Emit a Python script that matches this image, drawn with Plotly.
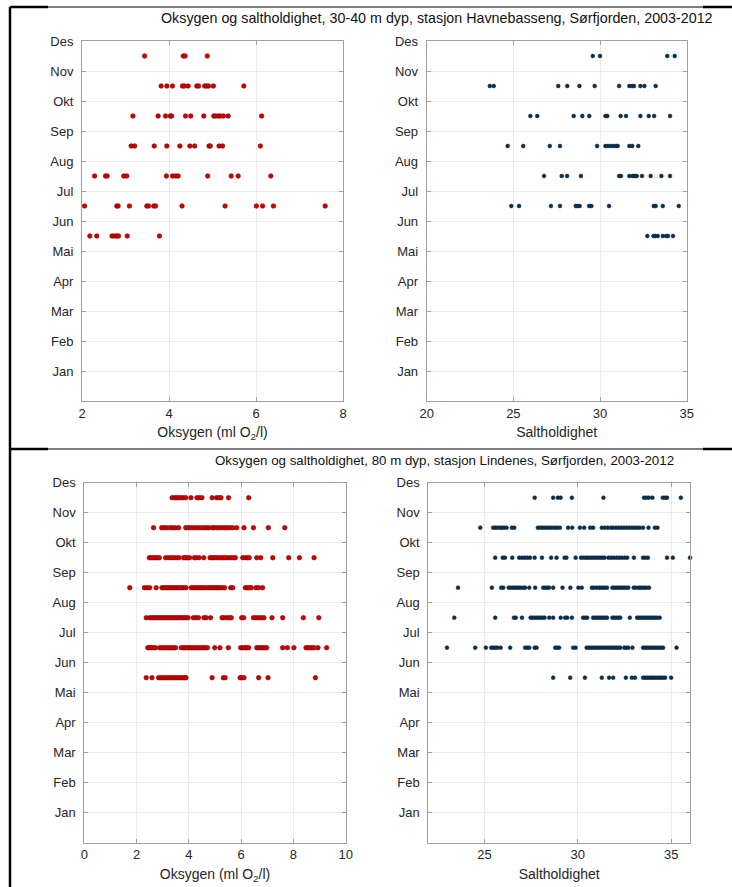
import plotly.graph_objects as go

# months on the y axis, data rows are May..Nov (plotted mid-month)
MONTH_NAMES = ["Jan", "Feb", "Mar", "Apr", "Mai", "Jun", "Jul", "Aug", "Sep", "Okt", "Nov", "Des"]
DATA_MONTHS = [5, 6, 7, 8, 9, 10, 11]

TITLE_TOP = "Oksygen og saltholdighet, 30-40 m dyp, stasjon Havnebasseng, Sørfjorden, 2003-2012"
TITLE_BOTTOM = "Oksygen og saltholdighet, 80 m dyp, stasjon Lindenes, Sørfjorden, 2003-2012"

# Havnebasseng 30-40 m, oxygen (ml O2/l), one list per month May..Nov
oks_havn = [
    [2.18, 2.34, 2.69, 2.74, 2.80, 2.84, 3.04, 3.78],
    [2.06, 2.80, 2.83, 3.09, 3.49, 3.53, 3.65, 3.69, 4.30, 5.29, 6.01, 6.15, 6.40, 7.59],
    [2.29, 2.54, 2.58, 2.96, 3.03, 3.94, 4.08, 4.15, 4.21, 4.89, 5.43, 5.59, 6.34],
    [3.13, 3.21, 3.66, 3.95, 4.25, 4.48, 4.59, 4.92, 4.95, 5.15, 5.23, 6.10],
    [3.17, 3.75, 3.92, 4.03, 4.06, 4.38, 4.50, 4.80, 5.03, 5.07, 5.13, 5.18, 5.25, 5.36, 6.13],
    [3.82, 3.95, 4.08, 4.31, 4.35, 4.44, 4.64, 4.68, 4.82, 4.87, 4.91, 5.02, 5.72],
    [3.44, 4.33, 4.37, 4.88],
]

# Havnebasseng 30-40 m, salinity
salt_havn = [
    [32.73, 33.08, 33.19, 33.33, 33.62, 33.81, 33.92, 34.21],
    [24.88, 25.33, 27.17, 27.69, 28.60, 28.71, 28.83, 29.37, 29.50, 30.52, 33.10, 33.21, 33.62, 34.54],
    [26.77, 27.79, 28.10, 28.90, 31.10, 31.21, 31.69, 31.88, 32.00, 32.12, 32.42, 32.92, 33.54, 34.04],
    [24.67, 25.57, 27.10, 27.69, 29.83, 30.31, 30.46, 30.62, 30.77, 30.92, 31.02, 31.69, 31.86, 32.21],
    [25.98, 26.38, 28.48, 28.98, 29.38, 30.31, 30.42, 31.19, 31.50, 32.33, 32.81, 33.12, 34.04],
    [23.64, 23.87, 27.59, 28.11, 28.81, 29.69, 31.10, 31.69, 31.85, 31.96, 32.33, 32.56, 33.21],
    [29.58, 30.00, 33.88, 34.31],
]

# Lindenes 80 m, oxygen
oks_lind = [
    [2.37, 2.59, 2.84, 2.92, 3.00, 3.08, 3.15, 3.23, 3.31, 3.38, 3.46, 3.53, 3.61, 3.69, 3.76, 3.84,
     3.89, 4.89, 5.32, 5.39, 5.96, 6.03, 6.11, 6.67, 7.03, 8.84],
    [2.43, 2.49, 2.56, 2.64, 2.72, 2.88, 2.96, 3.04, 3.11, 3.19, 3.26, 3.34, 3.42, 3.49, 3.71, 3.79,
     3.86, 3.94, 4.02, 4.09, 4.17, 4.25, 4.32, 4.40, 4.48, 4.55, 4.63, 4.71, 4.99, 5.19, 5.51, 5.98,
     6.06, 6.14, 6.21, 6.29, 6.60, 6.67, 6.75, 6.82, 6.90, 6.98, 7.59, 7.77, 8.02, 8.48, 8.56, 8.63,
     8.71, 8.79, 8.94, 9.27],
    [2.37, 2.51, 2.59, 2.67, 2.74, 2.82, 2.90, 2.97, 3.05, 3.12, 3.20, 3.28, 3.36, 3.43, 3.51, 3.58,
     3.66, 3.74, 3.81, 3.89, 3.97, 4.17, 4.27, 4.37, 4.58, 4.66, 4.83, 5.27, 5.34, 5.45, 5.55, 5.62,
     6.02, 6.10, 6.47, 6.57, 6.67, 6.77, 6.87, 7.18, 7.59, 8.38, 8.97],
    [1.74, 2.30, 2.40, 2.50, 2.75, 2.97, 3.05, 3.13, 3.20, 3.28, 3.35, 3.43, 3.51, 3.58, 3.66, 3.74,
     3.81, 3.89, 4.09, 4.17, 4.25, 4.32, 4.40, 4.48, 4.55, 4.63, 4.73, 4.81, 4.89, 4.96, 5.04, 5.12,
     5.19, 5.27, 5.37, 5.60, 5.68, 6.16, 6.24, 6.31, 6.39, 6.57, 6.67, 6.82],
    [2.49, 2.56, 2.64, 2.72, 2.79, 2.87, 3.11, 3.21, 3.32, 3.42, 3.52, 3.62, 3.80, 3.88, 3.95, 4.03,
     4.21, 4.28, 4.39, 4.57, 4.81, 4.89, 4.96, 5.04, 5.14, 5.24, 5.32, 5.40, 5.50, 5.60, 5.70, 5.78,
     6.06, 6.16, 6.24, 6.31, 6.60, 6.75, 7.21, 7.82, 8.23, 8.79],
    [2.65, 2.96, 3.05, 3.15, 3.28, 3.38, 3.48, 3.61, 3.88, 3.98, 4.07, 4.17, 4.27, 4.38, 4.48, 4.58,
     4.68, 4.76, 4.89, 4.96, 5.07, 5.16, 5.27, 5.37, 5.47, 5.57, 5.68, 5.83, 6.11, 6.47, 7.04, 7.67],
    [3.36, 3.46, 3.53, 3.61, 3.69, 3.78, 3.88, 4.08, 4.31, 4.40, 4.50, 4.89, 5.06, 5.15, 5.23, 5.52, 6.29],
]

# Lindenes 80 m, salinity
salt_lind = [
    [28.68, 29.59, 30.38, 31.28, 31.67, 31.89, 32.57, 32.89, 33.06, 33.49, 33.60, 33.70, 33.81, 33.92,
     34.02, 34.13, 34.24, 34.35, 34.45, 34.56, 34.67, 34.99],
    [23.00, 24.51, 25.08, 25.37, 25.47, 25.58, 25.69, 25.87, 26.38, 27.18, 27.29, 27.40, 27.69, 27.79,
     28.79, 28.89, 29.00, 29.75, 29.88, 30.47, 30.57, 30.68, 30.79, 30.89, 31.00, 31.10, 31.21, 31.32,
     31.42, 31.53, 31.64, 31.74, 31.85, 31.96, 32.06, 32.17, 32.27, 32.49, 32.60, 32.70, 32.92, 33.49,
     33.60, 33.70, 33.81, 33.92, 34.02, 34.13, 34.24, 34.35, 34.45, 34.56, 35.28],
    [23.39, 25.58, 26.58, 26.68, 27.01, 27.47, 27.58, 27.68, 27.79, 27.90, 28.00, 28.11, 28.22, 28.47,
     28.68, 29.08, 29.32, 29.43, 29.68, 30.28, 30.39, 30.50, 30.82, 30.93, 31.03, 31.14, 31.24, 31.35,
     31.45, 31.56, 31.85, 31.96, 32.06, 32.17, 32.27, 32.78, 33.17, 33.27, 33.38, 33.49, 33.60, 33.70,
     33.81, 33.92, 34.02, 34.13, 34.24, 34.38],
    [23.59, 25.40, 25.90, 26.01, 26.30, 26.40, 26.51, 26.62, 26.72, 26.83, 26.94, 27.08, 27.18, 27.40,
     27.72, 28.15, 28.25, 28.36, 28.46, 28.68, 29.18, 29.60, 30.03, 30.21, 30.75, 30.85, 31.00, 31.14,
     31.24, 31.35, 31.45, 31.56, 31.85, 31.96, 32.06, 32.17, 32.27, 32.38, 32.49, 32.60, 32.70, 32.99,
     33.09, 33.24, 33.34, 33.45, 33.56, 33.67, 33.81],
    [25.58, 25.98, 26.10, 26.49, 26.86, 27.01, 27.15, 27.29, 27.44, 27.69, 28.08, 28.57, 28.86, 29.29,
     29.39, 29.88, 30.17, 30.30, 30.43, 30.55, 30.68, 30.80, 30.93, 31.05, 31.18, 31.30, 31.43, 31.64,
     31.78, 31.92, 32.07, 32.21, 32.35, 32.50, 32.64, 33.00, 33.49, 33.62, 33.75, 34.77, 35.08, 36.00],
    [24.78, 25.47, 25.58, 25.69, 25.83, 25.94, 26.05, 26.19, 26.47, 26.60, 27.86, 27.99, 28.11, 28.24,
     28.36, 28.49, 28.61, 28.76, 28.89, 29.04, 29.48, 29.70, 30.11, 30.34, 30.66, 30.82, 31.28, 31.44,
     31.60, 31.77, 31.89, 32.04, 32.18, 32.32, 32.46, 32.60, 32.74, 32.89, 33.03, 33.17, 33.31, 33.49,
     33.78, 34.12, 34.26],
    [27.69, 28.68, 28.93, 29.08, 29.68, 31.37, 33.54, 33.67, 33.80, 33.99, 34.54, 34.67, 34.77, 35.51],
]

RED = "#d10000"
RED_EDGE = "#7a0000"
NAVY = "#0b2d4a"
FONT = "Liberation Sans, Arial, sans-serif"
TICK_COLOR = "#262626"
AXIS_COLOR = "#a0a0a0"
GRID_COLOR = "#ebebeb"

W, H = 732, 887


def px_x(p):
    return p / W


def px_y(p):
    return 1 - p / H


def add_rows(fig, rows, axis, color, edge, size):
    xs, ys = [], []
    for m, vals in zip(DATA_MONTHS, rows):
        xs += vals
        ys += [m + 0.5] * len(vals)
    fig.add_trace(go.Scatter(
        x=xs, y=ys, mode="markers", xaxis="x" + axis, yaxis="y" + axis,
        marker=dict(color=color, size=size, line=dict(color=edge, width=0.6)),
        cliponaxis=False, showlegend=False, hoverinfo="x+y",
    ))


fig = go.Figure()
add_rows(fig, oks_havn, "", RED, RED_EDGE, 4.6)
add_rows(fig, salt_havn, "2", NAVY, NAVY, 3.8)
add_rows(fig, oks_lind, "3", RED, RED_EDGE, 4.6)
add_rows(fig, salt_lind, "4", NAVY, NAVY, 3.8)

axis_common = dict(
    showline=True, linecolor=AXIS_COLOR, linewidth=1, mirror="ticks",
    ticks="inside", ticklen=4, tickcolor=AXIS_COLOR, automargin=False,
    showgrid=True, gridcolor=GRID_COLOR, gridwidth=1, zeroline=False,
    tickfont=dict(family=FONT, size=13, color=TICK_COLOR),
)
yaxis_common = dict(
    axis_common, range=[0, 12], tickmode="array",
    tickvals=list(range(1, 13)), ticktext=MONTH_NAMES, ticklabelstandoff=5,
)
oks_title = dict(text="Oksygen (ml O<sub>2</sub>/l)", font=dict(family=FONT, size=14, color=TICK_COLOR), standoff=7)
salt_title = dict(text="Saltholdighet", font=dict(family=FONT, size=14, color=TICK_COLOR), standoff=7)

top_dom = [px_y(401), px_y(41)]
bot_dom = [px_y(842.7), px_y(482.7)]

fig.update_layout(
    template="none",
    width=W, height=H, margin=dict(l=0, r=0, t=0, b=0, pad=0), autosize=False,
    paper_bgcolor="white", plot_bgcolor="white",
    xaxis=dict(axis_common, domain=[px_x(82), px_x(343)], range=[2, 8], dtick=2, title=oks_title, anchor="y"),
    yaxis=dict(yaxis_common, domain=top_dom, anchor="x"),
    xaxis2=dict(axis_common, domain=[px_x(426.7), px_x(686.7)], range=[20, 35], dtick=5, title=salt_title, anchor="y2"),
    yaxis2=dict(yaxis_common, domain=top_dom, anchor="x2"),
    xaxis3=dict(axis_common, domain=[px_x(84.3), px_x(345.7)], range=[0, 10], dtick=2, title=oks_title, anchor="y3"),
    yaxis3=dict(yaxis_common, domain=bot_dom, anchor="x3"),
    xaxis4=dict(axis_common, domain=[px_x(428.3), px_x(690)], range=[22, 36], tickvals=[25, 30, 35], title=salt_title, anchor="y4"),
    yaxis4=dict(yaxis_common, domain=bot_dom, anchor="x4"),
    annotations=[
        dict(text=TITLE_TOP, x=px_x(437), y=px_y(18), xref="paper", yref="paper",
             xanchor="center", yanchor="middle",
             showarrow=False, font=dict(family=FONT, size=14.3, color="#111111")),
        dict(text=TITLE_BOTTOM, x=px_x(445), y=px_y(460), xref="paper", yref="paper",
             xanchor="center", yanchor="middle",
             showarrow=False, font=dict(family=FONT, size=13.3, color="#111111")),
    ],
)

# black frame lines around / between the two panels
frame = [
    dict(x0=10, x1=10, y0=7, y1=H, w=2.5),
    dict(x0=10, x1=W, y0=7, y1=7, w=1.2),
    dict(x0=10, x1=W, y0=449, y1=449, w=1.2),
    dict(x0=10, x1=48, y0=7, y1=7, w=2.5),
    dict(x0=703, x1=W, y0=7, y1=7, w=2.5),
    dict(x0=10, x1=48, y0=449, y1=449, w=2.5),
    dict(x0=703, x1=W, y0=449, y1=449, w=2.5),
]
for f in frame:
    fig.add_shape(type="line", xref="paper", yref="paper",
                  x0=px_x(f["x0"]), x1=px_x(f["x1"]), y0=px_y(f["y0"]), y1=px_y(f["y1"]),
                  line=dict(color="black", width=f["w"]))

# drop the default page margin so the 732x887 figure fills the window exactly
fig.write_html("out.html", config={"displayModeBar": False},
               post_script="document.body.style.margin='0';document.body.style.overflow='hidden';")
